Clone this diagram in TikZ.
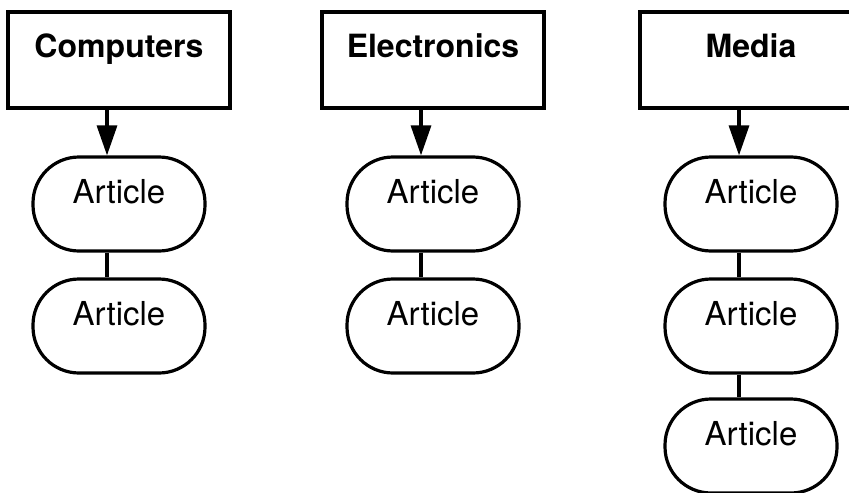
\documentclass[tikz,border=0pt]{standalone}
\usepackage{fontspec}
\setmainfont{TeX Gyre Heros}
\usetikzlibrary{arrows.meta, positioning}
\tikzset{
	topicbox/.style={draw, line width=1.6pt, inner sep=0pt, minimum width=111pt,
	  text height=23pt, text depth=25pt, font=\fontsize{16pt}{19pt}\selectfont\bfseries}
}
\tikzset{
	articlebox/.style={draw, line width=1.6pt, rounded corners=23pt, inner sep=0pt,
	  minimum width=86pt, text height=23pt, text depth=24pt, font=\fontsize{16.5pt}{19pt}\selectfont}
}
\tikzset{
	link/.style={line width=1.6pt}
}
\begin{document}
\begin{tikzpicture}[x=0.5pt, y=-0.5pt, >={Triangle[length=15pt,width=10pt]}]
      \clip (0,0) rectangle (849,492);
      % computers column
      \node[topicbox] (comp) at (119,60) {Computers};
      \node[articlebox] (comp1) at (119,204) {Article};
      \node[articlebox] (comp2) at (119,326) {Article};
      \draw[link,->] ([xshift=-6pt]comp.south) -- ([xshift=-6pt]comp1.north);
      \draw[link] ([xshift=-6pt]comp1.south) -- ([xshift=-6pt]comp2.north);
      % electronics column
      \node[topicbox] (elec) at (433,60) {Electronics};
      \node[articlebox] (elec1) at (433,204) {Article};
      \node[articlebox] (elec2) at (433,326) {Article};
      \draw[link,->] ([xshift=-6pt]elec.south) -- ([xshift=-6pt]elec1.north);
      \draw[link] ([xshift=-6pt]elec1.south) -- ([xshift=-6pt]elec2.north);
      % media column, box runs past the right edge
      \node[topicbox] (media) at (751,60) {Media};
      \node[articlebox] (media1) at (751,204) {Article};
      \node[articlebox] (media2) at (751,326) {Article};
      \node[articlebox] (media3) at (751,446) {Article};
      \draw[link,->] ([xshift=-6pt]media.south) -- ([xshift=-6pt]media1.north);
      \draw[link] ([xshift=-6pt]media1.south) -- ([xshift=-6pt]media2.north);
      \draw[link] ([xshift=-6pt]media2.south) -- ([xshift=-6pt]media3.north);
    \end{tikzpicture}
\end{document}
